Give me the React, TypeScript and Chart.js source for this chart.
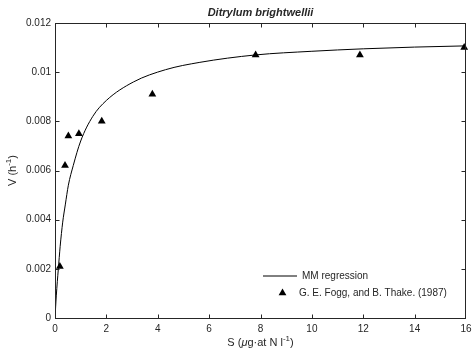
import React, { useEffect, useRef } from "react";
import { Chart, registerables } from "chart.js";

Chart.register(...registerables);

// ---- data ----
const TITLE = "Ditrylum brightwellii";
const LEGEND_LINE = "MM regression";
const LEGEND_POINTS = "G. E. Fogg, and B. Thake. (1987)";

// MM regression curve (S, V)
const curveS = [0, 0.05, 0.13, 0.2, 0.3, 0.4, 0.52, 0.71, 1.0, 1.47, 2.0, 3.05, 4.3, 5.64, 7.8, 10, 12, 14, 16];
const curveV = [0, 0.0009, 0.002, 0.0029, 0.0039, 0.0046, 0.0054, 0.0062, 0.0072, 0.0082, 0.00885, 0.0096, 0.0101, 0.0104, 0.0107, 0.01085, 0.01095, 0.01102, 0.01107];

// observations
const obsS = [0.19, 0.39, 0.52, 0.93, 1.82, 3.79, 7.81, 11.87, 15.93];
const obsV = [0.0021, 0.0062, 0.0074, 0.0075, 0.008, 0.0091, 0.0107, 0.0107, 0.011];

const xMin = 0, xMax = 16, xStep = 2;
const yMin = 0, yMax = 0.012, yStep = 0.002;

const FONT = "'Liberation Sans', Arial, Helvetica, sans-serif";
const TXT = "#262626";

type Seg = { t: string; style?: string; sup?: boolean };

function drawRich(ctx: CanvasRenderingContext2D, segs: Seg[], cx: number, cy: number, size: number) {
  const fontFor = (s: Seg) =>
    `${s.style ? s.style + " " : ""}${s.sup ? Math.round(size * 0.7) : size}px ${FONT}`;
  let total = 0;
  const widths = segs.map((s) => {
    ctx.font = fontFor(s);
    const w = ctx.measureText(s.t).width;
    total += w;
    return w;
  });
  let x = cx - total / 2;
  ctx.textAlign = "left";
  ctx.textBaseline = "middle";
  segs.forEach((s, i) => {
    ctx.font = fontFor(s);
    ctx.fillText(s.t, x, s.sup ? cy - size * 0.38 : cy);
    x += widths[i];
  });
}

const framePlugin = {
  id: "frame",
  afterDraw(chart: any) {
    const { ctx, chartArea: a, scales } = chart;
    const L = Math.floor(a.left) + 0.5;
    const R = Math.floor(a.right) - 0.5;
    const T = Math.floor(a.top) + 0.5;
    const B = Math.floor(a.bottom) + 0.5;
    ctx.save();
    ctx.strokeStyle = TXT;
    ctx.lineWidth = 1;
    ctx.strokeRect(L, T, R - L, B - T);
    const tl = 4;
    ctx.beginPath();
    scales.x.ticks.forEach((t: any) => {
      const px = Math.round(scales.x.getPixelForValue(t.value)) + 0.5;
      if (px <= L + 1 || px >= R - 1) return;
      ctx.moveTo(px, B);
      ctx.lineTo(px, B - tl);
      ctx.moveTo(px, T);
      ctx.lineTo(px, T + tl);
    });
    scales.y.ticks.forEach((t: any) => {
      const py = Math.round(scales.y.getPixelForValue(t.value)) + 0.5;
      if (py <= T + 1 || py >= B - 1) return;
      ctx.moveTo(L, py);
      ctx.lineTo(L + tl, py);
      ctx.moveTo(R, py);
      ctx.lineTo(R - tl, py);
    });
    ctx.stroke();

    // title
    ctx.fillStyle = TXT;
    ctx.font = `italic bold 11px ${FONT}`;
    ctx.textAlign = "center";
    ctx.textBaseline = "middle";
    ctx.fillText(TITLE, (a.left + a.right) / 2, 13);

    // x title
    drawRich(
      ctx,
      [
        { t: "S (" },
        { t: "\u03BC", style: "italic" },
        { t: "g\u00B7at N l" },
        { t: "-1", sup: true },
        { t: ")" },
      ],
      (a.left + a.right) / 2,
      343,
      11
    );

    // y title
    ctx.save();
    ctx.translate(13, (a.top + a.bottom) / 2);
    ctx.rotate(-Math.PI / 2);
    drawRich(ctx, [{ t: "V (h" }, { t: "-1", sup: true }, { t: ")" }], 0, 0, 11);
    ctx.restore();

    // legend
    ctx.strokeStyle = "#000";
    ctx.beginPath();
    ctx.moveTo(263, 276);
    ctx.lineTo(297, 276);
    ctx.stroke();
    ctx.fillStyle = "#000";
    const tx = 282.5, ty = 293, r = 4.5;
    const side = (3 * r) / Math.sqrt(3);
    const h = (side * Math.sqrt(3)) / 2;
    ctx.beginPath();
    ctx.moveTo(tx - side / 2, ty + h / 3);
    ctx.lineTo(tx + side / 2, ty + h / 3);
    ctx.lineTo(tx, ty - (2 * h) / 3);
    ctx.closePath();
    ctx.fill();
    ctx.fillStyle = TXT;
    ctx.font = `10px ${FONT}`;
    ctx.textAlign = "left";
    ctx.textBaseline = "middle";
    ctx.fillText(LEGEND_LINE, 302, 276);
    ctx.fillText(LEGEND_POINTS, 299, 293);
    ctx.restore();
  },
};

export default function App() {
  const ref = useRef<HTMLCanvasElement | null>(null);
  useEffect(() => {
    if (!ref.current) return;
    const chart = new Chart(ref.current, {
      type: "scatter",
      data: {
        datasets: [
          {
            label: LEGEND_LINE,
            data: curveS.map((s, i) => ({ x: s, y: curveV[i] })),
            showLine: true,
            borderColor: "#000",
            borderWidth: 1,
            pointRadius: 0,
            cubicInterpolationMode: "monotone",
            fill: false,
          },
          {
            label: LEGEND_POINTS,
            data: obsS.map((s, i) => ({ x: s, y: obsV[i] })),
            pointStyle: "triangle",
            pointRadius: 4.5,
            backgroundColor: "#000",
            borderColor: "#000",
            borderWidth: 0,
            clip: false,
          } as any,
        ],
      },
      options: {
        responsive: false,
        animation: false,
        devicePixelRatio: 1,
        layout: { padding: { top: 23, right: 6, left: 0, bottom: 0 } },
        plugins: {
          legend: { display: false },
          tooltip: { enabled: false },
          title: { display: false },
        },
        scales: {
          x: {
            type: "linear",
            min: xMin,
            max: xMax,
            ticks: {
              stepSize: xStep,
              padding: 5,
              color: TXT,
              font: { family: FONT, size: 10 },
              maxRotation: 0,
            },
            grid: { display: false, drawTicks: false },
            border: { display: false },
            afterFit: (s: any) => {
              s.height = 34;
              s.paddingRight = 0;
              s.paddingLeft = 0;
            },
          },
          y: {
            type: "linear",
            min: yMin,
            max: yMax,
            ticks: {
              stepSize: yStep,
              padding: 4,
              color: TXT,
              font: { family: FONT, size: 10 },
              callback: (v: any) => String(+Number(v).toFixed(4)),
            },
            grid: { display: false, drawTicks: false },
            border: { display: false },
            afterFit: (s: any) => {
              s.width = 55;
              s.paddingTop = 0;
              s.paddingBottom = 0;
            },
          },
        },
      } as any,
      plugins: [framePlugin],
    });
    return () => chart.destroy();
  }, []);
  return (
    <div style={{ position: "fixed", left: 0, top: 0, width: 472, height: 352, background: "#fff" }}>
      <canvas ref={ref} width={472} height={352} style={{ width: 472, height: 352, display: "block" }} />
    </div>
  );
}
